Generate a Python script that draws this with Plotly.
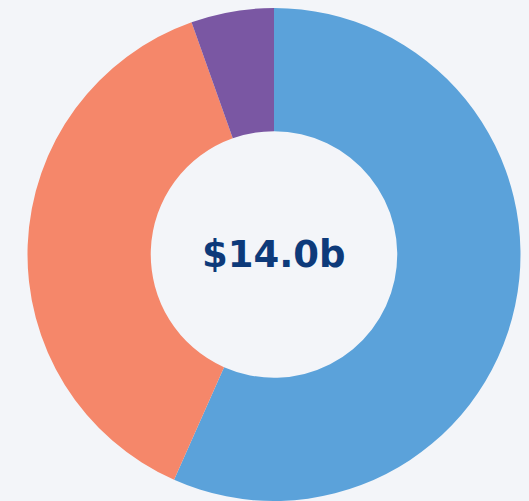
import plotly.graph_objects as go

# Segment shares (billions of dollars)
labels = ["Segment A", "Segment B", "Segment C"]
values = [7.93, 5.31, 0.76]
colors = ["#5ba2da", "#f5876a", "#7a57a3"]
total_label = "$14.0b"

bg = "#f3f5f9"

fig = go.Figure(
    go.Pie(
        labels=labels,
        values=values,
        hole=0.5,
        sort=False,
        direction="clockwise",
        rotation=0,
        marker=dict(colors=colors, line=dict(width=0)),
        textinfo="none",
        hoverinfo="label+value",
        showlegend=False,
    )
)

fig.add_annotation(
    text=f"<b>{total_label}</b>",
    x=0.5, y=0.5, xref="paper", yref="paper",
    showarrow=False,
    font=dict(family="DejaVu Sans", size=37, color="#0d3a7a"),
)

fig.update_layout(
    width=529,
    height=501,
    margin=dict(l=19, r=0, t=8, b=0),
    paper_bgcolor=bg,
    plot_bgcolor=bg,
)

fig.write_html("out.html")
